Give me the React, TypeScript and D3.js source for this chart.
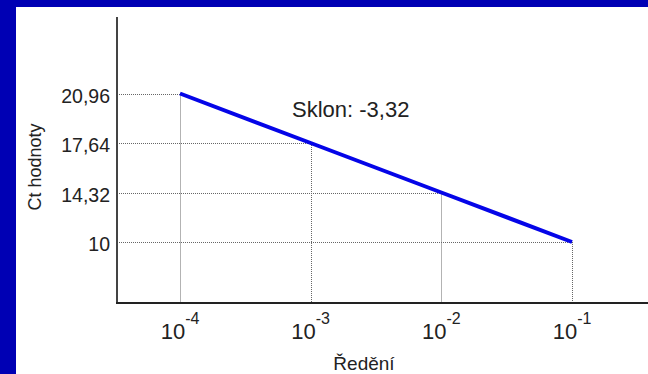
import React, { useEffect, useRef } from 'react';
import * as d3 from 'd3';

// dilution series and the Ct values
const dilutions = [1e-4, 1e-3, 1e-2, 1e-1];
const exponents = ['-4', '-3', '-2', '-1'];
const ctValues = [20.96, 17.64, 14.32, 10];
const slopeLabel = 'Sklon: -3,32';
const xTitle = 'Ředění';
const yTitle = 'Ct hodnoty';

const font = '"Liberation Sans", Arial, sans-serif';

export default function App() {
  const ref = useRef<SVGSVGElement>(null);

  useEffect(() => {
    const width = 648;
    const height = 374;
    const axisX = 117;
    const axisY = 303;
    const axisTop = 17;

    const svg = d3.select(ref.current);
    svg.selectAll('*').remove();

    // blue slide background + white panel
    svg.append('rect').attr('width', width).attr('height', height).attr('fill', '#0000b4');
    svg.append('rect').attr('x', 16).attr('y', 7).attr('width', width - 16).attr('height', height - 7).attr('fill', '#fff');

    const x = d3.scaleLog().domain([1e-4, 1e-1]).range([180, 572]);
    // the slide spaces the Ct ticks evenly, so a point scale is used
    const y = d3.scalePoint<number>().domain(ctValues).range([93.5, 242]);

    const pts = dilutions.map((d, i) => ({ d, ct: ctValues[i], exp: exponents[i] }));

    // drop lines
    const grid = svg.append('g')
      .attr('stroke', '#666')
      .attr('stroke-width', 1)
      .attr('stroke-dasharray', '1,1');
    grid.selectAll('.h').data(pts).enter().append('line')
      .attr('x1', axisX).attr('x2', (p) => x(p.d))
      .attr('y1', (p) => Math.round(y(p.ct)!) + 0.5).attr('y2', (p) => Math.round(y(p.ct)!) + 0.5);
    grid.selectAll('.v').data(pts).enter().append('line')
      .attr('x1', (p) => Math.round(x(p.d)) + 0.5).attr('x2', (p) => Math.round(x(p.d)) + 0.5)
      .attr('y1', (p) => y(p.ct)!).attr('y2', axisY);

    // axes
    svg.append('line').attr('x1', axisX).attr('x2', axisX).attr('y1', axisTop).attr('y2', axisY)
      .attr('stroke', '#444').attr('stroke-width', 2);
    svg.append('line').attr('x1', axisX - 1).attr('x2', width).attr('y1', axisY).attr('y2', axisY)
      .attr('stroke', '#222').attr('stroke-width', 2);

    // y tick labels
    svg.selectAll('.ylab').data(ctValues).enter().append('text')
      .attr('x', 110)
      .attr('y', (v) => y(v)! + 9)
      .attr('text-anchor', 'end')
      .attr('font-family', font)
      .attr('font-size', 19.5)
      .attr('fill', '#222')
      .text((v) => String(v).replace('.', ','));

    // x tick labels 10^n
    const xl = svg.selectAll('.xlab').data(pts).enter().append('text')
      .attr('x', (p) => x(p.d))
      .attr('y', axisY + 36)
      .attr('text-anchor', 'middle')
      .attr('font-family', font)
      .attr('fill', '#222');
    xl.append('tspan').attr('font-size', 22).text('10');
    xl.append('tspan').attr('font-size', 16).attr('dy', -15).text((p) => p.exp);

    // axis titles
    svg.append('text')
      .attr('x', 364).attr('y', 370)
      .attr('text-anchor', 'middle')
      .attr('font-family', font).attr('font-size', 19).attr('fill', '#222')
      .text(xTitle);
    svg.append('text')
      .attr('transform', 'translate(41,167) rotate(-90)')
      .attr('text-anchor', 'middle')
      .attr('font-family', font).attr('font-size', 18).attr('fill', '#222')
      .text(yTitle);

    // the regression line
    const line = d3.line<typeof pts[0]>().x((p) => x(p.d)).y((p) => y(p.ct)!);
    svg.append('path').datum(pts)
      .attr('d', line)
      .attr('fill', 'none')
      .attr('stroke', '#0505e8')
      .attr('stroke-width', 4);

    svg.append('text')
      .attr('x', 292).attr('y', 116.5)
      .attr('font-family', font).attr('font-size', 22).attr('fill', '#222')
      .text(slopeLabel);
  }, []);

  return (
    <svg ref={ref} width={648} height={374} style={{ position: 'absolute', left: 0, top: 0 }} />
  );
}
